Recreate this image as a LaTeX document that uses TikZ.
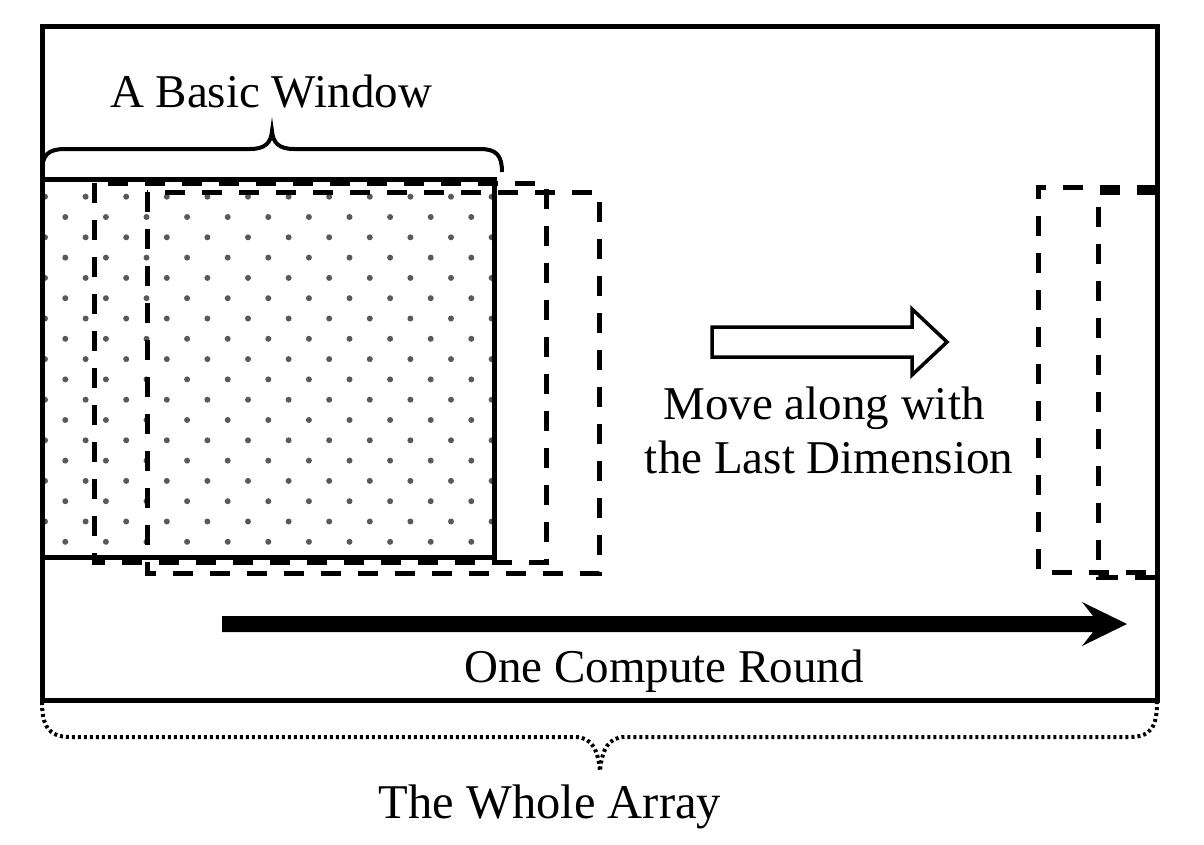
\documentclass[tikz,border=0pt]{standalone}
\usepackage{fontspec}
\setmainfont{Liberation Serif}
\tikzset{
  lbl/.style={inner sep=0pt, anchor=base, font=\fontsize{47}{56}\selectfont},
  solidbox/.style={line width=5pt},
  dashbox/.style={line width=5pt, dash pattern=on 20pt off 17pt},
  braceline/.style={line width=4pt},
  dotbrace/.style={line width=4pt, dash pattern=on 3pt off 3pt},
  dotmark/.style={fill=black!65},
}
\begin{document}
\begin{tikzpicture}[x=1pt,y=-1pt]
\useasboundingbox (0,0) rectangle (1204,844);
% dotted fill of the basic window
\begin{scope}
  \clip (42,179) rectangle (494,557);
  \foreach \k in {0,...,17}{
    \pgfmathsetmacro{\yy}{196.7+20.3*\k}
    \pgfmathsetmacro{\xo}{mod(\k,2)==0 ? 45 : 65.3}
    \foreach \j in {0,...,11}{
      \fill[dotmark] (\xo+40.6*\j,\yy) circle (3);
    }
  }
\end{scope}
% basic window and shifted windows
\draw[solidbox] (42,179) rectangle (494,557);
\draw[dashbox] (94,183) rectangle (546,562);
\draw[dashbox] (147,192) rectangle (599,573);
% windows at the right end
\draw[dashbox] (1157,187) -- (1038,187) -- (1038,572) -- (1157,572);
\draw[dashbox] (1157,192) -- (1098,192) -- (1098,577) -- (1157,577);
% outer frame
\draw[solidbox] (42,26) rectangle (1157,700);
% brace over the basic window
\draw[braceline] (42,176) -- (42,172) .. controls (42,155) and (48,149) .. (65,149)
  -- (250,149) .. controls (265,149) and (271,143) .. (272,131)
  .. controls (273,143) and (279,149) .. (294,149)
  -- (480,149) .. controls (496,149) and (502,155) .. (502,172);
\node[lbl] (basic) at (271,107) {A Basic Window};
% hollow arrow
\draw[line width=3.5pt, fill=white] (712,327) -- (912,327) -- (912,309) -- (947,342)
  -- (912,375) -- (912,357) -- (712,357) -- cycle;
\node[lbl] (move1) at (824,419) {Move along with};
\node[lbl] (move2) at (829,473) {the Last Dimension};
% black arrow
\fill (222,616) -- (1093,616) -- (1082,602) -- (1127,624) -- (1082,646)
  -- (1093,632) -- (222,632) -- cycle;
\node[lbl] (round) at (664,682) {One Compute Round};
% dotted brace under the array
\draw[dotbrace] (42,702) .. controls (42,725) and (48,737) .. (70,737)
  -- (575,737) .. controls (592,737) and (598,750) .. (600,771)
  .. controls (602,750) and (608,737) .. (625,737)
  -- (1130,737) .. controls (1152,737) and (1157,725) .. (1157,702);
\node[lbl] (whole) at (550,818) {\fontsize{48.5}{58}\selectfont The Whole Array};
\end{tikzpicture}
\end{document}
